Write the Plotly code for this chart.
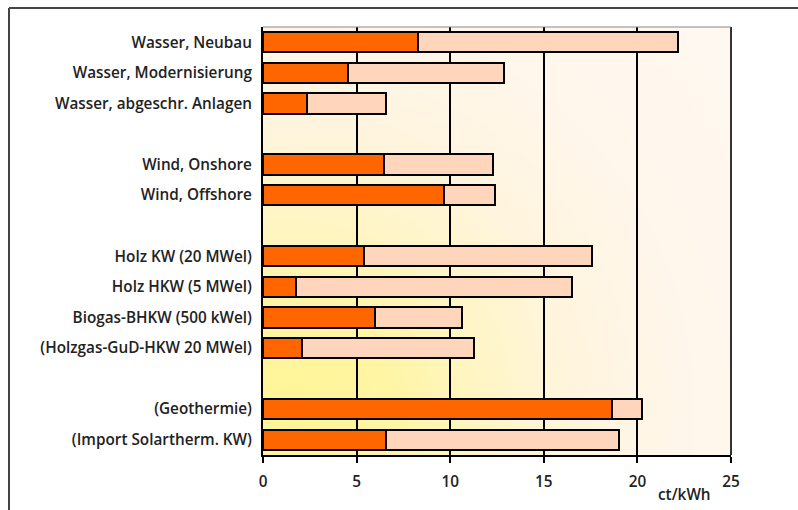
import base64
import struct
import zlib

import numpy as np
import plotly.graph_objects as go

# ---------------- data ----------------
categories = [
    "Wasser, Neubau",
    "Wasser, Modernisierung",
    "Wasser, abgeschr. Anlagen",
    " ",
    "Wind, Onshore",
    "Wind, Offshore",
    "  ",
    "Holz KW (20 MWel)",
    "Holz HKW (5 MWel)",
    "Biogas-BHKW (500 kWel)",
    "(Holzgas-GuD-HKW 20 MWel)",
    "   ",
    "(Geothermie)",
    "(Import Solartherm. KW)",
]
bar_labels = [c for c in categories if c.strip()]
low_values = [8.3, 4.55, 2.35, 6.45, 9.65, 5.4, 1.75, 6.0, 2.1, 18.65, 6.55]
high_values = [22.15, 12.9, 6.55, 12.3, 12.4, 17.55, 16.5, 10.65, 11.25, 20.25, 19.0]
x_ticks = [0, 5, 10, 15, 20, 25]
x_unit = "ct/kWh"

span_values = [h - l for l, h in zip(low_values, high_values)]

# ---------------- background gradient (decoration) ----------------
W, H = 468, 428
yy, xx = np.mgrid[0:H, 0:W].astype(float)
d = np.hypot(xx - 30, yy - 380)
stops = [0, 100, 190, 280, 400, 600]
g_st = [245, 245, 246, 245, 247, 249]
b_st = [150, 165, 198, 222, 236, 242]
img = np.zeros((H, W, 3), dtype=np.uint8)
img[..., 0] = 255
img[..., 1] = np.interp(d, stops, g_st).astype(np.uint8)
img[..., 2] = np.interp(d, stops, b_st).astype(np.uint8)
raw = b"".join(b"\x00" + img[r].tobytes() for r in range(H))


def _chunk(t, data):
    c = struct.pack(">I", len(data)) + t + data
    return c + struct.pack(">I", zlib.crc32(t + data) & 0xFFFFFFFF)


png = (b"\x89PNG\r\n\x1a\n"
       + _chunk(b"IHDR", struct.pack(">IIBBBBB", W, H, 8, 2, 0, 0, 0))
       + _chunk(b"IDAT", zlib.compress(raw, 9))
       + _chunk(b"IEND", b""))
bg_uri = "data:image/png;base64," + base64.b64encode(png).decode()

# ---------------- figure ----------------
fig = go.Figure()
fig.add_trace(go.Bar(
    y=bar_labels, x=low_values, orientation="h",
    marker=dict(color="#FF6600", line=dict(color="#000000", width=2)),
    showlegend=False, hoverinfo="x+y",
))
fig.add_trace(go.Bar(
    y=bar_labels, x=span_values, orientation="h",
    marker=dict(color="#FFD5BC", line=dict(color="#000000", width=2)),
    showlegend=False, hoverinfo="x+y",
))

font_family = "Open Sans, DejaVu Sans, sans-serif"
label_font = dict(family=font_family, size=15.3, color="#222222", weight=600)

fig.update_layout(
    width=798, height=510,
    margin=dict(l=263, r=67, t=27, b=55),
    barmode="stack",
    bargap=0.34,
    paper_bgcolor="#FFFFFF",
    plot_bgcolor="#FFF7E6",
    font=dict(family=font_family, size=15, color="#222222"),
    images=[dict(
        source=bg_uri, xref="paper", yref="paper", x=0, y=1,
        sizex=1, sizey=1, sizing="stretch", layer="below",
        xanchor="left", yanchor="top",
    )],
    xaxis=dict(
        range=[0, 25], tickvals=x_ticks, ticktext=[str(t) for t in x_ticks],
        showgrid=True, gridcolor="#000000", gridwidth=2,
        showline=True, linecolor="#000000", linewidth=2,
        ticks="outside", ticklen=6, tickwidth=2, tickcolor="#000000",
        zeroline=False, ticklabelstandoff=6,
        tickfont=label_font,
    ),
    yaxis=dict(
        type="category", categoryorder="array", categoryarray=categories,
        autorange="reversed",
        showgrid=False, showline=True, linecolor="#000000", linewidth=2,
        ticks="", ticklabelstandoff=6,
        tickfont=label_font,
    ),
    annotations=[dict(
        text=x_unit, xref="x", yref="paper", x=22.5, y=-0.09,
        showarrow=False, font=label_font,
        xanchor="center", yanchor="middle",
    )],
    shapes=[
        dict(type="line", xref="paper", yref="paper", x0=1, x1=1, y0=0, y1=1,
             line=dict(color="#333333", width=2), layer="above"),
        dict(type="line", xref="paper", yref="paper", x0=0, x1=1, y0=1, y1=1,
             line=dict(color="#888888", width=1), layer="above"),
        dict(type="line", xref="paper", yref="paper",
             x0=(9 - 263) / 468, x1=(800 - 263) / 468,
             y0=(455 - 8) / 428, y1=(455 - 8) / 428,
             line=dict(color="#444444", width=2)),
        dict(type="line", xref="paper", yref="paper",
             x0=(9 - 263) / 468, x1=(9 - 263) / 468,
             y0=(455 - 8) / 428, y1=(455 - 512) / 428,
             line=dict(color="#444444", width=2)),
    ],
)

fig.write_html(
    "out.html",
    config={"displayModeBar": False},
    post_script="document.body.style.margin='0';document.body.style.overflow='hidden';",
)
